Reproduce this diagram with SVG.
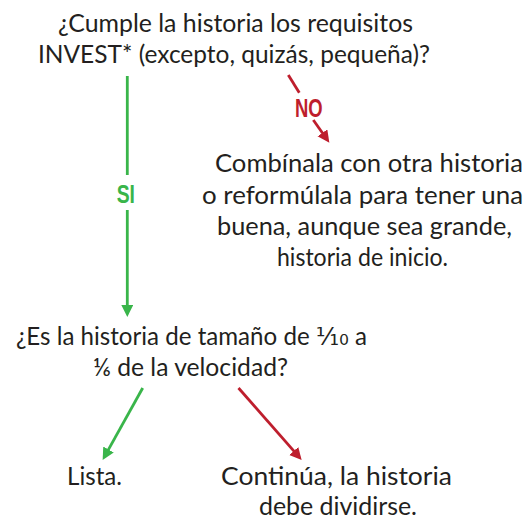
<svg xmlns="http://www.w3.org/2000/svg" width="530" height="523" viewBox="0 0 530 523">
  <style>
    .t { font-family: Lato, "Open Sans", "DejaVu Sans", sans-serif; font-size: 24.5px; fill: #231f20; }
    .lbl { font-family: "Liberation Sans", "DejaVu Sans", sans-serif; font-weight: bold; font-size: 26px; }
    .g { stroke: #39b54a; stroke-width: 2.8; fill: none; }
    .r { stroke: #be1e2d; stroke-width: 2.8; fill: none; }
  </style>
  <defs>
    <marker id="ag" markerUnits="userSpaceOnUse" markerWidth="13" markerHeight="13" refX="1" refY="6" orient="auto">
      <path d="M0,0 L12,6 L0,12 z" fill="#39b54a"/>
    </marker>
    <marker id="ar" markerUnits="userSpaceOnUse" markerWidth="13" markerHeight="13" refX="1" refY="6" orient="auto">
      <path d="M0,0 L12,6 L0,12 z" fill="#be1e2d"/>
    </marker>
  </defs>

  <g id="q1">
    <text class="t" x="58" y="31.5" textLength="355" lengthAdjust="spacingAndGlyphs">¿Cumple la historia los requisitos</text>
    <text class="t" x="38" y="63" textLength="392" lengthAdjust="spacingAndGlyphs">INVEST* (excepto, quizás, pequeña)?</text>
  </g>

  <g id="combinar">
    <text class="t" x="215" y="172" textLength="308" lengthAdjust="spacingAndGlyphs">Combínala con otra historia</text>
    <text class="t" x="202" y="203.5" textLength="321" lengthAdjust="spacingAndGlyphs">o reformúlala para tener una</text>
    <text class="t" x="217" y="235" textLength="295" lengthAdjust="spacingAndGlyphs">buena, aunque sea grande,</text>
    <text class="t" x="277" y="266" textLength="171" lengthAdjust="spacingAndGlyphs">historia de inicio.</text>
  </g>

  <g id="q2">
    <text class="t" x="16" y="345" textLength="351" lengthAdjust="spacingAndGlyphs">¿Es la historia de tamaño de ⅒ a</text>
    <text class="t" x="93" y="376" textLength="195" lengthAdjust="spacingAndGlyphs">⅙ de la velocidad?</text>
  </g>

  <g id="lista">
    <text class="t" x="67" y="485" textLength="55" lengthAdjust="spacingAndGlyphs">Lista.</text>
  </g>

  <g id="continua">
    <text class="t" x="221" y="484.5" textLength="231" lengthAdjust="spacingAndGlyphs">Continúa, la historia</text>
    <text class="t" x="259" y="515" textLength="158" lengthAdjust="spacingAndGlyphs">debe dividirse.</text>
  </g>

  <g id="connectors">
    <line class="g" x1="127.3" y1="76" x2="127.3" y2="175"/>
    <line class="g" x1="127.3" y1="210" x2="127.3" y2="306" marker-end="url(#ag)"/>
    <text class="lbl" x="116.7" y="203" fill="#39b54a" textLength="18.3" lengthAdjust="spacingAndGlyphs">SI</text>

    <line class="r" x1="288.3" y1="75" x2="299.3" y2="92.7"/>
    <line class="r" x1="313.3" y1="120" x2="323" y2="133.7" marker-end="url(#ar)"/>
    <text class="lbl" x="295" y="117" fill="#be1e2d" textLength="27.7" lengthAdjust="spacingAndGlyphs">NO</text>

    <line class="g" x1="142.7" y1="388" x2="108" y2="450.4" marker-end="url(#ag)"/>
    <line class="r" x1="238.5" y1="388" x2="294.4" y2="451.7" marker-end="url(#ar)"/>
  </g>
</svg>
